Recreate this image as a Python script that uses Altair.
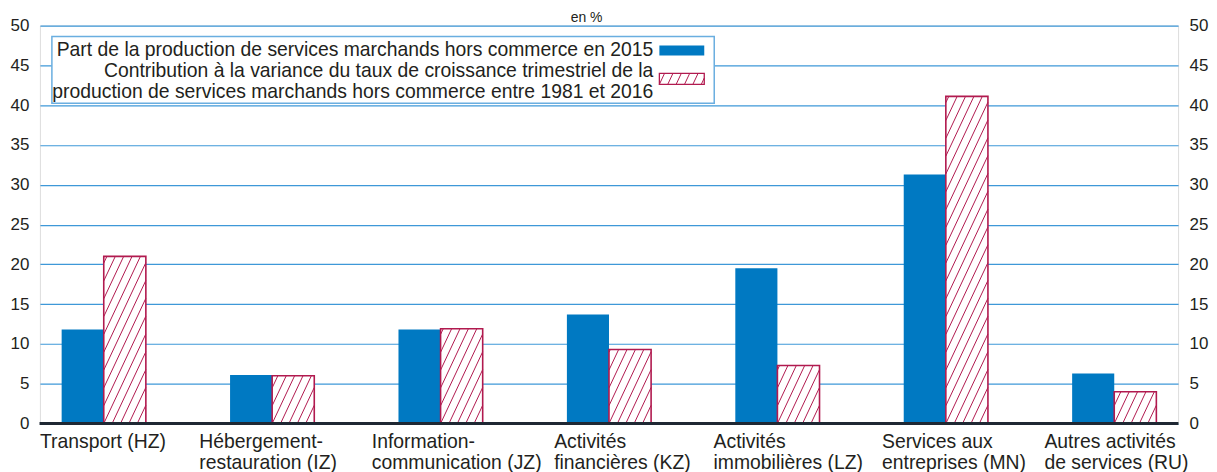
import altair as alt
import pandas as pd

# ---------------- data ----------------
categories = [
    "Transport (HZ)",
    "Hébergement-\nrestauration (IZ)",
    "Information-\ncommunication (JZ)",
    "Activités\nfinancières (KZ)",
    "Activités\nimmobilières (LZ)",
    "Services aux\nentreprises (MN)",
    "Autres activités\nde services (RU)",
]
part_2015 = [11.8, 6.1, 11.8, 13.7, 19.5, 31.3, 6.3]
contribution_variance = [21.0, 6.0, 11.9, 9.3, 7.3, 41.1, 4.0]
series_names = [
    "Part de la production de services marchands hors commerce en 2015",
    "Contribution à la variance du taux de croissance trimestriel de la\nproduction de services marchands hors commerce entre 1981 et 2016",
]
y_ticks = [0, 5, 10, 15, 20, 25, 30, 35, 40, 45, 50]
unit_label = "en %"

# ---------------- style ----------------
FONT = "Liberation Sans"
W, H = 1141, 399
XMIN, XMAX = 0.121, 6.879
PX = W / (XMAX - XMIN)      # px per category unit
PY = H / 50.0               # px per y unit
BLUE = "#0079c2"
CRIMSON = "#b11a4f"
FRAME = "#1a82cc"
GRID = "#3e98d8"
VGRID = "#80bbe6"
TEXT = "#231f20"
AXIS = "#1f2833"
S = 8.4      # hatch spacing (px)
K = 0.47     # hatch slope dx/dy
BW = 0.25 * PX
LABEL_DX = [-64, -73, -69, -55, -64, -64, -70]   # label left edge vs band centre (px)
FS = 19.4

df = pd.DataFrame({
    "idx": list(range(len(categories))),
    "category": categories,
    "part": part_2015,
    "contrib": contribution_variance,
    "ldx": LABEL_DX,
})

xs = alt.Scale(domain=[XMIN, XMAX], nice=False, zero=False)
ys = alt.Scale(domain=[0, 50], nice=False, zero=True)

base = alt.Chart(df)

blue_bars = base.transform_calculate(
    x0="datum.idx + 0.25", x1="datum.idx + 0.5"
).mark_rect(color=BLUE).encode(
    x=alt.X("x0:Q", scale=xs, axis=alt.Axis(
        values=[1, 2, 3, 4, 5, 6], grid=True, gridColor=VGRID, gridWidth=1.6,
        labels=False, ticks=False, tickSize=0, domain=False, title=None)),
    x2="x1:Q",
    y=alt.Y("part:Q", scale=ys, axis=alt.Axis(
        orient="left", values=y_ticks, grid=True, gridColor=GRID, gridWidth=1.2,
        ticks=False, tickSize=0, domain=False, title=None, labelPadding=11,
        labelFontSize=17, labelFont=FONT, labelColor=TEXT)),
    y2=alt.datum(0),
)

hatch_bars = base.transform_calculate(
    x0="datum.idx + 0.5", x1="datum.idx + 0.75"
).mark_rect(fill="white", stroke=CRIMSON, strokeWidth=1.6).encode(
    x=alt.X("x0:Q", scale=xs, axis=None),
    x2="x1:Q",
    y=alt.Y("contrib:Q", scale=ys, axis=alt.Axis(
        orient="right", values=y_ticks, grid=False,
        ticks=False, tickSize=0, domain=False, title=None, labelPadding=11,
        labelFontSize=17, labelFont=FONT, labelColor=TEXT)),
    y2=alt.datum(0),
)

hatch_lines = base.transform_calculate(
    n="sequence(-26, 8)"
).transform_flatten(["n"]).transform_calculate(
    c=f"datum.n * {S}", hp=f"datum.contrib * {PY}"
).transform_calculate(
    ylo=f"max(0, -datum.c / {K})",
    yhi=f"min(datum.hp, ({BW} - datum.c) / {K})",
).transform_filter("datum.yhi > datum.ylo + 0.4").transform_calculate(
    xa=f"datum.idx + 0.5 + (datum.c + {K} * datum.ylo) / {PX}",
    xb=f"datum.idx + 0.5 + (datum.c + {K} * datum.yhi) / {PX}",
    ya=f"datum.ylo / {PY}",
    yb=f"datum.yhi / {PY}",
).mark_rule(color=CRIMSON, strokeWidth=1).encode(
    x=alt.X("xa:Q", scale=xs, axis=None),
    x2="xb:Q",
    y=alt.Y("ya:Q", scale=ys, axis=None),
    y2="yb:Q",
)

baseline_rule = base.mark_rule(color=AXIS, strokeWidth=3).encode(
    y=alt.Y(datum=0, scale=ys, axis=None),
    x=alt.value(0), x2=alt.value(W),
)

cat_labels = base.transform_calculate(
    xl=f"datum.idx + 0.5 + datum.ldx / {PX}"
).mark_text(
    align="left", baseline="alphabetic", lineBreak="\n",
    fontSize=FS, font=FONT, color=TEXT, lineHeight=21,
).encode(
    x=alt.X("xl:Q", scale=xs, axis=None),
    y=alt.value(H + 25),
    text="category:N",
)

# ---------------- legend (drawn by hand) ----------------
leg_df = pd.DataFrame({"name": series_names})
legend_box = alt.Chart(leg_df.head(1)).mark_rect(
    fill="white", stroke="#6aaee0", strokeWidth=1.5
).encode(x=alt.value(12), x2=alt.value(676), y=alt.value(11), y2=alt.value(78))

leg_text1 = alt.Chart(leg_df.iloc[[0]]).mark_text(
    align="right", baseline="alphabetic", fontSize=FS, font=FONT, color=TEXT
).encode(x=alt.value(615), y=alt.value(31), text="name:N")

leg_text2 = alt.Chart(leg_df.iloc[[1]]).mark_text(
    align="right", baseline="alphabetic", fontSize=FS, font=FONT, color=TEXT,
    lineBreak="\n", lineHeight=21,
).encode(x=alt.value(615), y=alt.value(52), text="name:N")

leg_sw1 = alt.Chart(leg_df.iloc[[0]]).mark_rect(color=BLUE).encode(
    x=alt.value(621), x2=alt.value(666), y=alt.value(20), y2=alt.value(30))

leg_sw2 = alt.Chart(leg_df.iloc[[1]]).mark_rect(
    fill="white", stroke=CRIMSON, strokeWidth=1.3
).encode(x=alt.value(621), x2=alt.value(666), y=alt.value(48), y2=alt.value(59))

SW_W, SW_H, SW_X, SW_Y = 45, 11, 621, 59
leg_sw2_lines = alt.Chart(leg_df.iloc[[1]]).transform_calculate(
    n="sequence(-2, 7)"
).transform_flatten(["n"]).transform_calculate(
    c=f"datum.n * {S}"
).transform_calculate(
    ylo=f"max(0, -datum.c / {K})",
    yhi=f"min({SW_H}, ({SW_W} - datum.c) / {K})",
).transform_filter("datum.yhi > datum.ylo + 0.4").transform_calculate(
    xa=f"{SW_X} + datum.c + {K} * datum.ylo",
    xb=f"{SW_X} + datum.c + {K} * datum.yhi",
    ya=f"{SW_Y} - datum.ylo",
    yb=f"{SW_Y} - datum.yhi",
).mark_rule(color=CRIMSON, strokeWidth=1).encode(
    x=alt.X("xa:Q", scale=None, axis=None), x2="xb:Q",
    y=alt.Y("ya:Q", scale=None, axis=None), y2="yb:Q",
)

unit_text = alt.Chart(pd.DataFrame({"u": [unit_label]})).mark_text(
    align="center", baseline="alphabetic", fontSize=14, font=FONT, color=TEXT
).encode(x=alt.value(548), y=alt.value(-4), text="u:N")

chart = alt.layer(
    blue_bars, hatch_bars, hatch_lines, baseline_rule, cat_labels,
    legend_box, leg_text1, leg_text2, leg_sw1, leg_sw2, leg_sw2_lines, unit_text,
).resolve_axis(y="independent").properties(
    width=W, height=H,
    autosize=alt.AutoSizeParams(type="none"),
    padding={"left": 32, "top": 17, "right": 31, "bottom": 48},
).configure_view(
    stroke=FRAME, strokeWidth=2
).configure(font=FONT)

chart.save("out.html", embed_options={"renderer": "svg", "actions": False})
